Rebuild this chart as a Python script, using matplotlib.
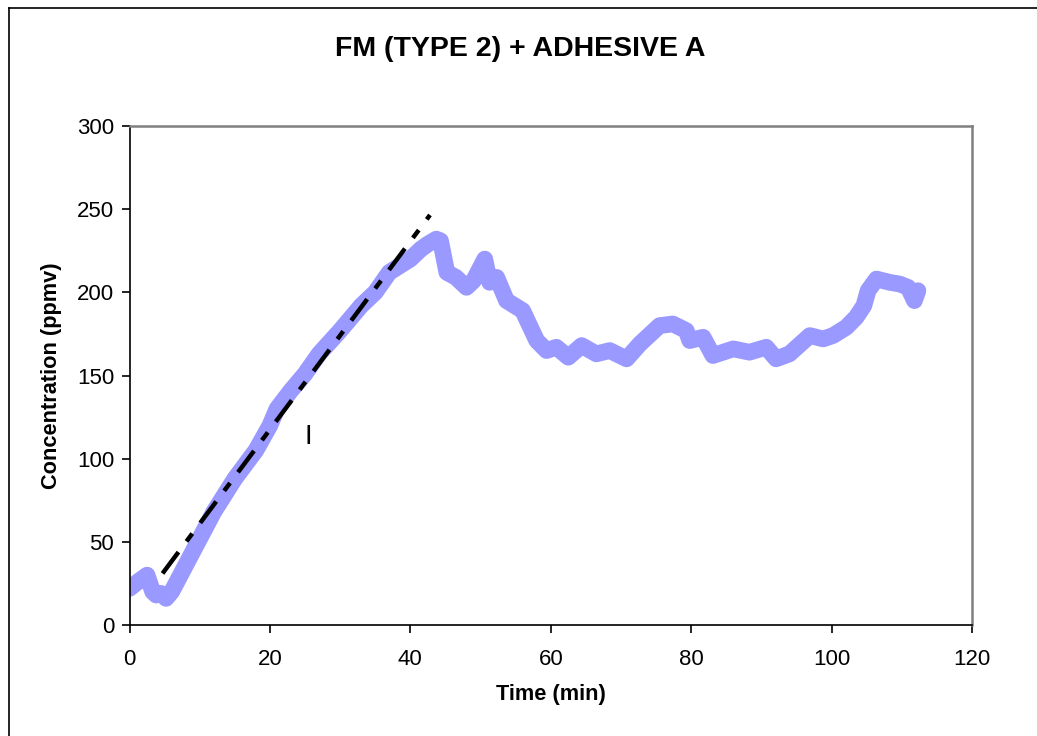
import matplotlib
matplotlib.use("Agg")
import matplotlib.pyplot as plt
from matplotlib.lines import Line2D

plt.rcParams['font.family'] = ['Liberation Sans', 'DejaVu Sans']

# %% data
time_min = [0, 1.2, 2.5, 3.3, 3.8, 4.5, 5.2, 6, 7, 8, 10, 12, 15, 18, 20, 21,
            23, 25, 27, 30, 33, 35, 37, 40, 41.5, 42.5, 43.7, 44.3, 45.2, 46.5,
            48, 49, 50.6, 51.3, 52.3, 53.7, 56, 58, 59.4, 60.8, 62.5, 64.4,
            66.5, 68.4, 70.8, 72.7, 75.5, 77.4, 79.3, 79.8, 81.7, 83.1, 86,
            88.3, 90.7, 92.1, 94, 96.9, 98.8, 100.2, 102.1, 103.5, 104.6, 105.2,
            106.4, 108.3, 109.7, 110.9, 111.8, 112.3]
conc_ppmv = [22, 26, 30, 20, 18, 19, 16, 20, 28, 36, 52, 68, 88, 105, 120, 130,
             141, 151, 163, 177, 192, 200, 212, 220, 226, 229, 232, 231, 212, 209,
             203, 207, 220, 206, 209, 195, 189, 171, 165, 167, 161, 168,
             163, 165, 160, 169, 180, 181, 177, 171, 173, 162, 166,
             164, 167, 160, 163, 174, 172, 174, 179, 185, 192, 201,
             208, 206, 205, 203, 195, 201]

# linear trend over the rising part
trend_t = [4.7, 42.8]
trend_c = [31, 246.5]

x_ticks = [0, 20, 40, 60, 80, 100, 120]
y_ticks = [0, 50, 100, 150, 200, 250, 300]

# %% figure
fig = plt.figure(figsize=(10.37, 7.36), dpi=100)
ax = fig.add_axes([0.1249, 0.1508, 0.8124, 0.6780])

ax.plot(time_min, conc_ppmv, color='#9999ff', lw=12,
        solid_joinstyle='round', solid_capstyle='round', zorder=2)
ax.plot(trend_t, trend_c, color='black', lw=3.2,
        dashes=(6, 3, 2.2, 3), zorder=3)

ax.text(25.4, 113, 'I', fontsize=20, ha='center', va='center')

ax.set_xlim(0, 120)
ax.set_ylim(0, 300)
ax.set_xticks(x_ticks)
ax.set_yticks(y_ticks)
ax.tick_params(direction='out', length=6, width=1.2, labelsize=16)
ax.tick_params(axis='x', pad=11)
ax.tick_params(axis='y', pad=5)

for side in ['left', 'bottom']:
    ax.spines[side].set_color('black')
    ax.spines[side].set_linewidth(1.2)
for side in ['top', 'right']:
    ax.spines[side].set_color('#808080')
    ax.spines[side].set_linewidth(1.8)

ax.set_xlabel('Time (min)', fontsize=15.7, fontweight='bold', labelpad=10)
ax.set_ylabel('Concentration (ppmv)', fontsize=15.7, fontweight='bold', labelpad=11)
fig.text(0.5015, 0.934, 'FM (TYPE 2) + ADHESIVE A', fontsize=20.5,
         fontweight='bold', ha='center', va='center')

# outer chart border (only top and left visible)
fig.add_artist(Line2D([8.5 / 1037, 8.5 / 1037], [0, 1 - 8 / 736],
                      color='black', lw=1.2, transform=fig.transFigure))
fig.add_artist(Line2D([8.5 / 1037, 1], [1 - 8 / 736, 1 - 8 / 736],
                      color='black', lw=1.2, transform=fig.transFigure))

fig.savefig('out.png', dpi=100)
